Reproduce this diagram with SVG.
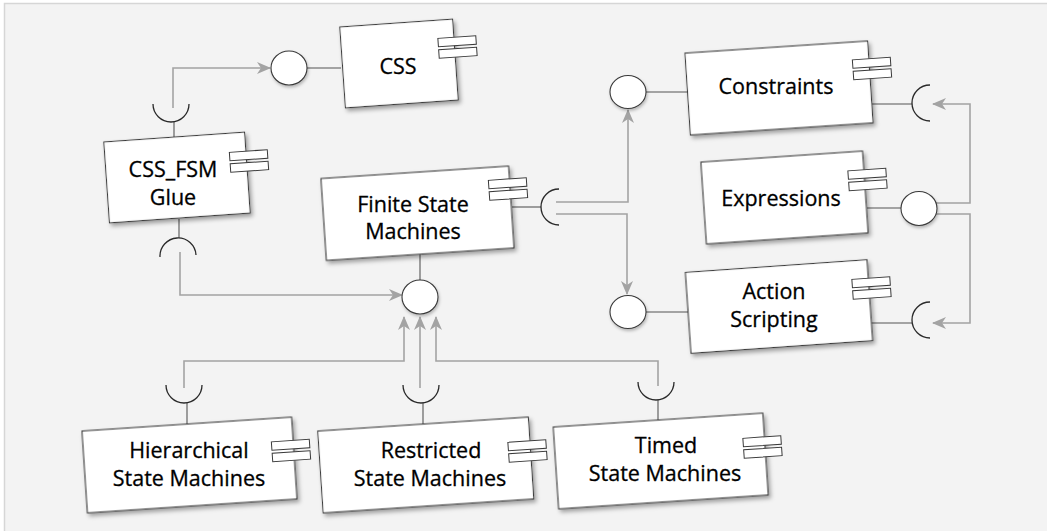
<svg xmlns="http://www.w3.org/2000/svg" width="1047" height="531" viewBox="0 0 1047 531">
<style>
.box{fill:#fff;stroke:#3a3a3a;stroke-width:1.1;filter:url(#sh)}
.ic{fill:#fff;stroke:#3a3a3a;stroke-width:1}
.lol{fill:#fff;stroke:#3a3a3a;stroke-width:1.1;filter:url(#sh2)}
.sock{fill:none;stroke:#2a2a2a;stroke-width:1.3}
.stem{fill:none;stroke:#555;stroke-width:1.1}
.con{fill:none;stroke:#a3a3a3;stroke-width:1.6;marker-end:url(#ah)}
.t{font-family:"Open Sans","Noto Sans","Liberation Sans",sans-serif;font-size:21.5px;fill:#000;stroke:#000;stroke-width:0.3;text-anchor:middle}
</style>
<defs>
<filter id="sh" x="-20%" y="-20%" width="140%" height="150%">
<feDropShadow dx="2" dy="3" stdDeviation="2" flood-color="#000" flood-opacity="0.35"/>
</filter>
<filter id="sh2" x="-30%" y="-30%" width="160%" height="170%">
<feDropShadow dx="1" dy="2" stdDeviation="1.5" flood-color="#000" flood-opacity="0.25"/>
</filter>
<marker id="ah" viewBox="0 0 14 12" refX="13" refY="6" markerWidth="14" markerHeight="12" markerUnits="userSpaceOnUse" orient="auto">
<path d="M0,0 L14,6 L0,12 L4,6 Z" fill="#a3a3a3"/>
</marker>
<g id="icon">
<rect class="ic" x="-19" y="-10" width="38" height="8.5"/>
<rect class="ic" x="-19" y="1.5" width="38" height="8.5"/>
</g>
</defs>
<rect x="4.5" y="3.5" width="1050" height="540" fill="#f3f3f3" stroke="#d6d6d6" stroke-width="1.5"/>

<g id="connectors">
<polyline class="con" points="173,108 173,68 270,68"/>
<polyline class="con" points="180,252 180,295 402,295"/>
<polyline class="con" points="184,388 184,361 404,361 404,317"/>
<polyline class="con" points="420,388 420,317"/>
<polyline class="con" points="658,386 658,361 436,361 436,317"/>
<polyline class="con" points="556,202 628,202 628,110"/>
<polyline class="con" points="556,214 627,214 627,294"/>
<polyline class="con" points="936,203 970,203 970,104 933,104"/>
<polyline class="con" points="936,214 970,214 970,323 933,323"/>
</g>

<g id="css">
<line class="stem" x1="307" y1="68" x2="341" y2="68"/>
<ellipse class="lol" cx="289" cy="68" rx="18" ry="17"/>
<rect class="box" x="-56.5" y="-40.5" width="113" height="81" transform="translate(399,63.5) rotate(-4)"/>
<use href="#icon" transform="translate(457.5,47) rotate(-4)"/>
<text class="t" x="398" y="74">CSS</text>
</g>

<g id="css_fsm_glue">
<line class="stem" x1="174" y1="122" x2="174" y2="138"/>
<path class="sock" d="M153,104 A18,18 0 0 0 189,104"/>
<line class="stem" x1="179" y1="219" x2="179" y2="238"/>
<path class="sock" d="M160,257 A18,18 0 0 1 196,255"/>
<rect class="box" x="-70.5" y="-40.5" width="141" height="81" transform="translate(177,177.5) rotate(-4)"/>
<use href="#icon" transform="translate(249,161) rotate(-4)"/>
<text class="t" x="173" y="177">CSS_FSM</text>
<text class="t" x="173" y="204.5">Glue</text>
</g>

<g id="fsm">
<line class="stem" x1="420" y1="254" x2="420" y2="280"/>
<ellipse class="lol" cx="420" cy="297" rx="18" ry="17"/>
<line class="stem" x1="512" y1="207" x2="541" y2="207"/>
<path class="sock" d="M559,189 A18,18 0 0 0 559,225"/>
<rect class="box" x="-94" y="-41" width="188" height="82" transform="translate(417.5,213.25) rotate(-3.8)"/>
<use href="#icon" transform="translate(508,189) rotate(-4)"/>
<text class="t" x="413" y="212">Finite State</text>
<text class="t" x="413" y="239">Machines</text>
</g>

<g id="constraints">
<line class="stem" x1="646" y1="92" x2="688" y2="92"/>
<ellipse class="lol" cx="628" cy="92" rx="18" ry="16.5"/>
<line class="stem" x1="870" y1="104" x2="912" y2="104"/>
<path class="sock" d="M930,85 A18,18 0 0 0 930,121"/>
<rect class="box" x="-91.5" y="-41" width="183" height="82" transform="translate(779,88) rotate(-3.8)"/>
<use href="#icon" transform="translate(872,68.5) rotate(-4)"/>
<text class="t" x="776" y="94">Constraints</text>
</g>

<g id="expressions">
<line class="stem" x1="867" y1="208" x2="901" y2="208"/>
<ellipse class="lol" cx="919" cy="208.5" rx="18" ry="17"/>
<rect class="box" x="-81" y="-41" width="162" height="82" transform="translate(784.5,197.5) rotate(-3.9)"/>
<use href="#icon" transform="translate(867.5,179.5) rotate(-4)"/>
<text class="t" x="781" y="206">Expressions</text>
</g>

<g id="action_scripting">
<line class="stem" x1="646" y1="312" x2="688" y2="312"/>
<ellipse class="lol" cx="628" cy="312" rx="18" ry="16.5"/>
<line class="stem" x1="870" y1="323" x2="912" y2="323"/>
<path class="sock" d="M930,302 A18,18 0 0 0 930,338"/>
<rect class="box" x="-91" y="-40.5" width="182" height="81" transform="translate(779,306.5) rotate(-4)"/>
<use href="#icon" transform="translate(871.5,288) rotate(-4)"/>
<text class="t" x="774" y="299">Action</text>
<text class="t" x="774" y="327">Scripting</text>
</g>

<g id="hierarchical">
<line class="stem" x1="187" y1="403" x2="187" y2="424"/>
<path class="sock" d="M166,385 A18,18 0 0 0 202,385"/>
<rect class="box" x="-105" y="-41" width="210" height="82" transform="translate(189.5,465) rotate(-3.8)"/>
<use href="#icon" transform="translate(291,450.5) rotate(-4)"/>
<text class="t" x="189" y="458">Hierarchical</text>
<text class="t" x="189" y="486">State Machines</text>
</g>

<g id="restricted">
<line class="stem" x1="423" y1="403" x2="423" y2="424"/>
<path class="sock" d="M403,385 A18,18 0 0 0 439,385"/>
<rect class="box" x="-105.5" y="-41" width="211" height="82" transform="translate(425.75,465) rotate(-3.8)"/>
<use href="#icon" transform="translate(527.5,451) rotate(-4)"/>
<text class="t" x="431" y="458">Restricted</text>
<text class="t" x="430" y="486">State Machines</text>
</g>

<g id="timed">
<line class="stem" x1="658" y1="400" x2="658" y2="420"/>
<path class="sock" d="M638,382 A18,18 0 0 0 674,382"/>
<rect class="box" x="-105" y="-41" width="210" height="82" transform="translate(660.75,461) rotate(-3.8)"/>
<use href="#icon" transform="translate(762.5,447) rotate(-4)"/>
<text class="t" x="666" y="453">Timed</text>
<text class="t" x="665" y="481">State Machines</text>
</g>
</svg>
